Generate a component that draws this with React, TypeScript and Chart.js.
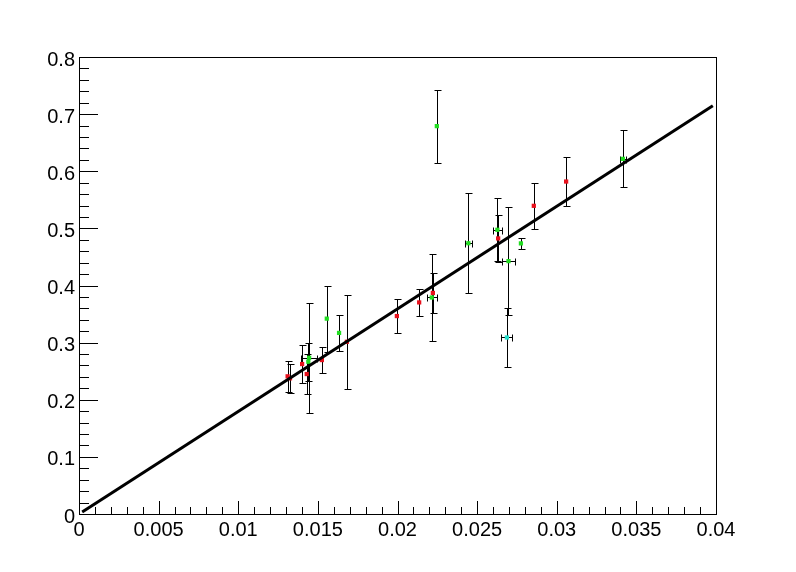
import React, { useEffect, useRef } from 'react';
import { Chart, registerables } from 'chart.js';

Chart.register(...registerables);

// ---- data ----
const redX = [0.01325, 0.0131, 0.01401, 0.0143, 0.01525, 0.01682, 0.01996, 0.02136, 0.02222, 0.02632, 0.02856, 0.03059];
const redY = [0.2375, 0.241, 0.2625, 0.245, 0.2695, 0.3015, 0.3465, 0.3704, 0.387, 0.4824, 0.5395, 0.582];
const redEY = [0.025, 0.027, 0.034, 0.035, 0.0224, 0.082, 0.03, 0.023, 0.035, 0.041, 0.04, 0.043];
const redEX = [0, 0, 0, 0, 0, 0, 0, 0, 0, 0, 0, 0];

const greenX = [0.01445, 0.0144, 0.01556, 0.01633, 0.02215, 0.02247, 0.02445, 0.02627, 0.02697, 0.02775, 0.03415];
const greenY = [0.2735, 0.2665, 0.342, 0.317, 0.379, 0.679, 0.474, 0.4975, 0.4427, 0.4737, 0.6217];
const greenEY = [0.096, 0.033, 0.058, 0.032, 0.076, 0.064, 0.088, 0.055, 0.094, 0.01, 0.05];
const greenEX = [0.0005, 0, 0, 0, 0.0003, 0, 0.0002, 0.0003, 0.0004, 0, 0.0002];

const cyanX = [0.02687];
const cyanY = [0.309];
const cyanEY = [0.052];
const cyanEX = [0.00035];

const fitX = [0.0002, 0.0398];
const fitY = [0.0036, 0.7145];

const xTickValues = [0, 0.005, 0.01, 0.015, 0.02, 0.025, 0.03, 0.035, 0.04];
const xTickLabels = ['0', '0.005', '0.01', '0.015', '0.02', '0.025', '0.03', '0.035', '0.04'];
const yTickValues = [0, 0.1, 0.2, 0.3, 0.4, 0.5, 0.6, 0.7, 0.8];
const yTickLabels = ['0', '0.1', '0.2', '0.3', '0.4', '0.5', '0.6', '0.7', '0.8'];
const xMinorStep = 0.001;
const yMinorStep = 0.02;

const groups = [
  { xs: redX, ys: redY, ex: redEX, ey: redEY },
  { xs: greenX, ys: greenY, ex: greenEX, ey: greenEY },
  { xs: cyanX, ys: cyanY, ex: cyanEX, ey: cyanEY },
];

const toPts = (xs: number[], ys: number[]) => xs.map((v, i) => ({ x: v, y: ys[i] }));

const errorBarPlugin = {
  id: 'errorBars',
  beforeDatasetsDraw(chart: any) {
    const { ctx } = chart;
    const xs = chart.scales.x;
    const ys = chart.scales.y;
    ctx.save();
    ctx.strokeStyle = '#000';
    ctx.lineWidth = 1;
    const cap = 3;
    groups.forEach((g) => {
      g.xs.forEach((xv, i) => {
        const px = Math.round(xs.getPixelForValue(xv)) + 0.5;
        const py = Math.round(ys.getPixelForValue(g.ys[i])) + 0.5;
        if (g.ey[i] > 0) {
          const t = Math.round(ys.getPixelForValue(g.ys[i] + g.ey[i])) + 0.5;
          const b = Math.round(ys.getPixelForValue(g.ys[i] - g.ey[i])) + 0.5;
          ctx.beginPath();
          ctx.moveTo(px, t); ctx.lineTo(px, b);
          ctx.moveTo(px - cap, t); ctx.lineTo(px + cap + 1, t);
          ctx.moveTo(px - cap, b); ctx.lineTo(px + cap + 1, b);
          ctx.stroke();
        }
        if (g.ex[i] > 0) {
          const l = Math.round(xs.getPixelForValue(xv - g.ex[i])) + 0.5;
          const r = Math.round(xs.getPixelForValue(xv + g.ex[i])) + 0.5;
          ctx.beginPath();
          ctx.moveTo(l, py); ctx.lineTo(r, py);
          ctx.moveTo(l, py - cap); ctx.lineTo(l, py + cap + 1);
          ctx.moveTo(r, py - cap); ctx.lineTo(r, py + cap + 1);
          ctx.stroke();
        }
      });
    });
    ctx.restore();
  },
};

const framePlugin = {
  id: 'rootFrame',
  afterDraw(chart: any) {
    const { ctx, chartArea } = chart;
    const xs = chart.scales.x;
    const ys = chart.scales.y;
    const { left, right, top, bottom } = chartArea;
    ctx.save();
    ctx.strokeStyle = '#000';
    ctx.lineWidth = 1;
    ctx.strokeRect(Math.round(left) + 0.5, Math.round(top) + 0.5, Math.round(right - left), Math.round(bottom - top));
    ctx.beginPath();
    const nX = Math.round((xs.max - xs.min) / xMinorStep);
    for (let k = 0; k <= nX; k++) {
      const v = xs.min + k * xMinorStep;
      const major = k % 5 === 0;
      const px = Math.round(xs.getPixelForValue(v)) + 0.5;
      const len = major ? 13 : 7;
      ctx.moveTo(px, Math.round(bottom));
      ctx.lineTo(px, Math.round(bottom) - len);
    }
    const nY = Math.round((ys.max - ys.min) / yMinorStep);
    for (let k = 0; k <= nY; k++) {
      const v = ys.min + k * yMinorStep;
      const major = k % 5 === 0;
      const py = Math.round(ys.getPixelForValue(v)) + 0.5;
      const len = major ? 19 : 10;
      ctx.moveTo(Math.round(left), py);
      ctx.lineTo(Math.round(left) + len, py);
    }
    ctx.stroke();
    ctx.restore();
  },
};

export default function App() {
  const ref = useRef<HTMLCanvasElement | null>(null);
  useEffect(() => {
    if (!ref.current) return;
    const font = { family: '"Liberation Sans", Arial, sans-serif', size: 20 };
    const chart = new Chart(ref.current, {
      type: 'scatter',
      data: {
        datasets: [
          {
            type: 'line',
            label: 'fit',
            data: toPts(fitX, fitY),
            borderColor: '#000',
            borderWidth: 3,
            pointRadius: 0,
            fill: false,
            showLine: true,
          } as any,
          {
            label: 'red',
            data: toPts(redX, redY),
            backgroundColor: '#e8101c',
            borderWidth: 0,
            pointStyle: 'rect',
            pointRadius: 3,
          },
          {
            label: 'green',
            data: toPts(greenX, greenY),
            backgroundColor: '#22dd22',
            borderWidth: 0,
            pointStyle: 'rect',
            pointRadius: 3,
          },
          {
            label: 'cyan',
            data: toPts(cyanX, cyanY),
            backgroundColor: '#22e0cc',
            borderWidth: 0,
            pointStyle: 'rect',
            pointRadius: 3,
          },
        ],
      },
      options: {
        responsive: false,
        animation: false,
        events: [],
        layout: { padding: { top: 57, right: 80, left: 0, bottom: 0 } },
        plugins: { legend: { display: false }, tooltip: { enabled: false } },
        scales: {
          x: {
            type: 'linear',
            min: 0,
            max: 0.04,
            grid: { display: false, drawTicks: false },
            border: { display: false },
            afterBuildTicks: (s: any) => { s.ticks = xTickValues.map((v) => ({ value: v })); },
            afterFit: (s: any) => { s.height = 58; s.paddingLeft = 0; s.paddingRight = 0; },
            ticks: {
              autoSkip: false,
              maxRotation: 0,
              padding: 4,
              color: '#000',
              font,
              callback: (_v: any, i: number) => xTickLabels[i],
            },
          },
          y: {
            type: 'linear',
            min: 0,
            max: 0.8,
            grid: { display: false, drawTicks: false },
            border: { display: false },
            afterBuildTicks: (s: any) => { s.ticks = yTickValues.map((v) => ({ value: v })); },
            afterFit: (s: any) => { s.width = 79; s.paddingTop = 0; s.paddingBottom = 0; },
            ticks: {
              autoSkip: false,
              padding: 4,
              labelOffset: 3,
              color: '#000',
              font,
              callback: (_v: any, i: number) => yTickLabels[i],
            },
          },
        },
      },
      plugins: [errorBarPlugin, framePlugin],
    });
    return () => chart.destroy();
  }, []);
  return (
    <div style={{ position: 'absolute', left: 0, top: 0, width: 796, height: 572, background: '#fff' }}>
      <canvas ref={ref} width={796} height={572} style={{ display: 'block' }} />
    </div>
  );
}
